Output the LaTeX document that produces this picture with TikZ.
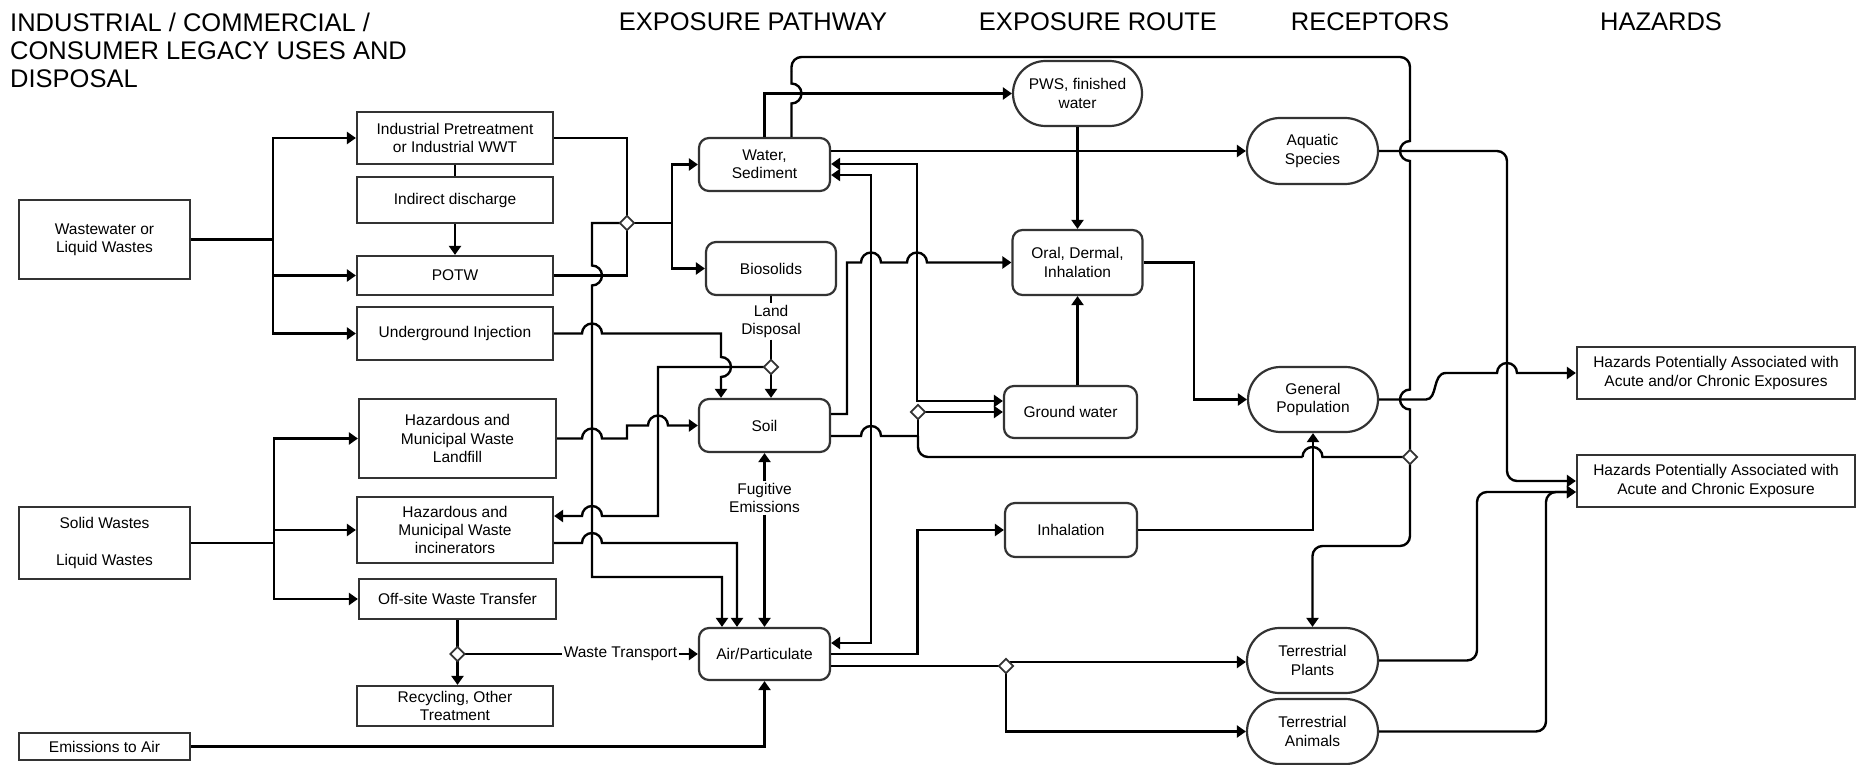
\documentclass[tikz,border=0pt]{standalone}
\usepackage{fontspec}
\setmainfont{Liberation Sans}
\usetikzlibrary{arrows.meta,shapes.misc,shapes.geometric,calc}
\definecolor{boxc}{HTML}{333333}
\newcommand\bodyfont{\fontsize{15.5}{18.3}\selectfont}
\newcommand\hdrfont{\fontsize{25.5}{28.5}\selectfont}
\begin{document}
\begin{tikzpicture}[x=1pt,y=-1pt,
  >={Triangle[length=9pt,width=12pt]},
  box/.style={draw=boxc, line width=2.2pt, rectangle, align=center, inner sep=0pt, font=\bodyfont},
  rbox/.style={box, rounded corners=10pt},
  stad/.style={draw=boxc, line width=2.2pt, rounded rectangle, align=center, inner sep=0pt, font=\bodyfont},
  hdr/.style={inner sep=0pt, font=\hdrfont},
  lbl/.style={inner sep=1.5pt, fill=white, align=center, font=\bodyfont},
  conn/.style={draw=black, line width=2.4pt},
  arr/.style={conn, ->},
  dmd/.style={diamond, draw=boxc, fill=white, line width=1.8pt, minimum size=15pt, inner sep=0pt}
]
\useasboundingbox (0,0) rectangle (1858,765);
\fill[white] (0,0) rectangle (1858,765);

% headers
\node[hdr, anchor=base west] (h1a) at (10,32) {INDUSTRIAL / COMMERCIAL /};
\node[hdr, anchor=base west] (h1b) at (10,60) {CONSUMER LEGACY USES AND};
\node[hdr, anchor=base west] (h1c) at (10,88) {DISPOSAL};
\node[hdr, anchor=base] (h2) at (753,31) {EXPOSURE PATHWAY};
\node[hdr, anchor=base] (h3) at (1098,31) {EXPOSURE ROUTE};
\node[hdr, anchor=base] (h4) at (1370,31) {RECEPTORS};
\node[hdr, anchor=base] (h5) at (1661,31) {HAZARDS};

% sources
\node[box, minimum width=171pt, minimum height=79pt] (ww) at (104.5,239.5) {Wastewater or\\Liquid Wastes};
\node[box, minimum width=171pt, minimum height=72pt] (solid) at (104.5,543) {Solid Wastes\\[18.3pt]Liquid Wastes};
\node[box, minimum width=171pt, minimum height=27pt] (emis) at (104.5,746.5) {Emissions to Air};

% column 2
\node[box, minimum width=196pt, minimum height=52pt] (ip) at (455,138) {Industrial Pretreatment\\or Industrial WWT};
\node[box, minimum width=196pt, minimum height=46pt] (indir) at (455,200) {Indirect discharge};
\node[box, minimum width=196pt, minimum height=39pt] (potw) at (455,275.5) {POTW};
\node[box, minimum width=196pt, minimum height=53pt] (ui) at (455,333.5) {Underground Injection};
\node[box, minimum width=197pt, minimum height=79pt] (landfill) at (457.5,438.5) {Hazardous and\\Municipal Waste\\Landfill};
\node[box, minimum width=196pt, minimum height=66pt] (incin) at (455,530) {Hazardous and\\Municipal Waste\\incinerators};
\node[box, minimum width=197pt, minimum height=40pt] (offsite) at (457.5,599) {Off-site Waste Transfer};
\node[box, minimum width=196pt, minimum height=40pt] (recyc) at (455,706) {Recycling, Other\\Treatment};

% pathways
\node[rbox, minimum width=131pt, minimum height=53pt] (water) at (764.5,164.5) {Water,\\Sediment};
\node[rbox, minimum width=130pt, minimum height=53pt] (bio) at (771,268.5) {Biosolids};
\node[rbox, minimum width=131pt, minimum height=53pt] (soil) at (764.5,425.5) {Soil};
\node[rbox, minimum width=131pt, minimum height=52pt] (air) at (764.5,654) {Air/Particulate};

% routes
\node[stad, minimum width=129pt, minimum height=65pt] (pws) at (1077.5,93.5) {PWS, finished\\water};
\node[rbox, minimum width=130pt, minimum height=65pt] (oral) at (1077.5,262.5) {Oral, Dermal,\\Inhalation};
\node[rbox, minimum width=133pt, minimum height=52pt] (gw) at (1070.5,412) {Ground water};
\node[rbox, minimum width=132pt, minimum height=54pt] (inh) at (1071,530) {Inhalation};

% receptors
\node[stad, minimum width=131pt, minimum height=66pt] (aq) at (1312.5,151) {Aquatic\\Species};
\node[stad, minimum width=130pt, minimum height=65pt] (gp) at (1313,399.5) {General\\Population};
\node[stad, minimum width=131pt, minimum height=65pt] (tp) at (1312.5,660.5) {Terrestrial\\Plants};
\node[stad, minimum width=131pt, minimum height=65pt] (ta) at (1312.5,731.5) {Terrestrial\\Animals};

% hazards
\node[box, minimum width=278pt, minimum height=52pt] (hz1) at (1716,373) {Hazards Potentially Associated with\\Acute and/or Chronic Exposures};
\node[box, minimum width=278pt, minimum height=52pt] (hz2) at (1716,481) {Hazards Potentially Associated with\\Acute and Chronic Exposure};

% labels
\node[lbl] (ld) at (771,321.5) {Land\\Disposal};
\node[lbl] (fug) at (764.5,498) {Fugitive\\Emissions};
\node[lbl] (wt) at (620.5,654) {Waste Transport};

% junction points
\coordinate (wwj) at (273,239.5);
\coordinate (sj) at (274,543);
\coordinate (d1) at (627,223);
\coordinate (d1r) at (672,223);
\coordinate (d2) at (771,367);
\coordinate (d3) at (457.5,654);
\coordinate (d4) at (918,412);
\coordinate (d5) at (1410,457);
\coordinate (d6) at (1006,666);

% wastewater
\draw[conn] (ww.east) -- (wwj);
\draw[arr] (wwj) |- (ip.west);
\draw[arr] (wwj) |- (potw.west);
\draw[arr] (wwj) |- (ui.west);
% solid wastes
\draw[conn] (solid.east) -- (sj);
\draw[arr] (sj) |- (landfill.west);
\draw[arr] (sj) |- (incin.west);
\draw[arr] (sj) |- (offsite.west);
% column 2 internal
\draw[conn] (ip.south) -- (indir.north);
\draw[arr] (indir.south) -- (potw.north);
% to d1
\draw[conn] (ip.east) -| (d1);
\draw[conn] (potw.east) -| (d1);
\draw[conn] (d1) -- (d1r);
\draw[arr] (d1r) |- (water.west);
\draw[arr] (d1r) |- (bio.west);
% d1 -> air
\draw[arr] (d1) -- (592,223) -- (592,265.5) arc[start angle=90,end angle=-90,radius=10pt] -- (592,577) -- (722,577) -- ($(air.north)+(-42.5,0)$);
% underground injection -> soil
\draw[arr] (ui.east) -- (582,333.5) arc[start angle=180,end angle=0,radius=10pt] -- (721,333.5) -- (721,357) arc[start angle=90,end angle=-90,radius=10pt] -- ($(soil.north)+(-43.5,0)$);
% land disposal
\draw[conn] (bio.south) -- (ld.north);
\draw[conn] (ld.south) -- (d2);
\draw[arr] (d2) -- ($(soil.north)+(6.5,0)$);
\draw[arr] (d2) -- (658,367) -- (658,516) -- (602,516) arc[start angle=0,end angle=180,radius=10pt] -- ($(incin.east)+(0,-14)$);
% landfill -> soil
\draw[arr] (landfill.east) -- (582,438.5) arc[start angle=180,end angle=0,radius=10pt] -- (627,438.5) -- (627,425.5) -- (648,425.5) arc[start angle=180,end angle=0,radius=10pt] -- (soil.west);
% incinerators -> air
\draw[arr] ($(incin.east)+(0,13)$) -- (582,543) arc[start angle=180,end angle=0,radius=10pt] -- (737,543) -- ($(air.north)+(-27.5,0)$);
% fugitive emissions
\draw[arr] (fug.north) -- (soil.south);
\draw[arr] (fug.south) -- (air.north);
% off-site transfer
\draw[conn] (offsite.south) -- (d3);
\draw[arr] (d3) -- ($(recyc.north)+(2.5,0)$);
\draw[conn] (d3) -- (wt.west);
\draw[arr] (wt.east) -- (air.west);
% emissions to air
\draw[arr] (emis.east) -| (air.south);

% water lines
\draw[arr] (water.north) |- (pws.west);
\draw[conn] ($(water.north)+(27,0)$) -- (791.5,103.5) arc[start angle=-90,end angle=90,radius=10pt] -- (791.5,72);
\draw[conn, rounded corners=10pt] (791.5,72) -- (791.5,57) -- (1410,57) -- (1410,130);
\draw[conn] (1410,130) -- (1410,141) arc[start angle=90,end angle=270,radius=10pt] -- (1410,389.5) arc[start angle=90,end angle=270,radius=10pt] -- (1410,530);
\draw[arr, rounded corners=10pt] (1410,530) -- (1410,546) -- (1312.5,546) -- (tp.north);
\draw[arr] ($(water.east)+(0,-13.5)$) -- (aq.west);
\draw[conn, <->] ($(water.east)+(0,-0.5)$) -- (917,164) -- (917,401) -- ($(gw.west)+(0,-11)$);
\draw[conn, <->] ($(water.east)+(0,10.5)$) -- (871,175) -- (871,643) -- ($(air.east)+(0,-11)$);

% soil lines
\draw[arr] ($(soil.east)+(0,-11.5)$) -- (847,414) -- (847,262.5) -- (861,262.5) arc[start angle=180,end angle=0,radius=10pt] -- (907,262.5) arc[start angle=180,end angle=0,radius=10pt] -- (oral.west);
\draw[conn] ($(soil.east)+(0,10.5)$) -- (861,436) arc[start angle=180,end angle=0,radius=10pt] -- (918,436);
\draw[conn] (d4) -- (918,436);
\draw[conn, rounded corners=10pt] (918,436) -- (918,457) -- (1302.5,457);
\draw[conn] (1302.5,457) arc[start angle=180,end angle=0,radius=10pt] -- (d5);
\draw[arr] (d4) -- (gw.west);

% routes
\draw[arr] (pws.south) -- (oral.north);
\draw[arr] ($(gw.north)+(7,0)$) -- (oral.south);
\draw[arr] (oral.east) -- (1194,262.5) |- (gp.west);
\draw[arr] (inh.east) -| (gp.south);
\draw[arr] (air.east) -- (917.5,654) |- (inh.west);
\draw[conn] ($(air.east)+(0,12)$) -- (d6);
\draw[arr] ($(d6)+(4,-4)$) -- ($(tp.west)+(0,1.5)$);
\draw[arr] (d6) |- (ta.west);

% receptors -> hazards
\draw[arr, rounded corners=10pt] (aq.east) -- (1507,151) -- (1507,481) -- (hz2.west);
\draw[arr] (gp.east) -- (1426,399.5) .. controls (1438,399.5) and (1432,373) .. (1446,373) -- (1497,373) arc[start angle=180,end angle=0,radius=10pt] -- (hz1.west);
\draw[arr, rounded corners=10pt] (tp.east) -- (1477,660.5) -- (1477,492) -- ($(hz2.west)+(0,11)$);
\draw[arr, rounded corners=10pt] (ta.east) -- (1546,731.5) -- (1546,492) -- ($(hz2.west)+(0,11)$);

% diamonds on top
\node[dmd] (d1m) at (d1) {};
\node[dmd] (d2m) at (d2) {};
\node[dmd] (d3m) at (d3) {};
\node[dmd] (d4m) at (d4) {};
\node[dmd] (d5m) at (d5) {};
\node[dmd] (d6m) at (d6) {};
\end{tikzpicture}
\end{document}
